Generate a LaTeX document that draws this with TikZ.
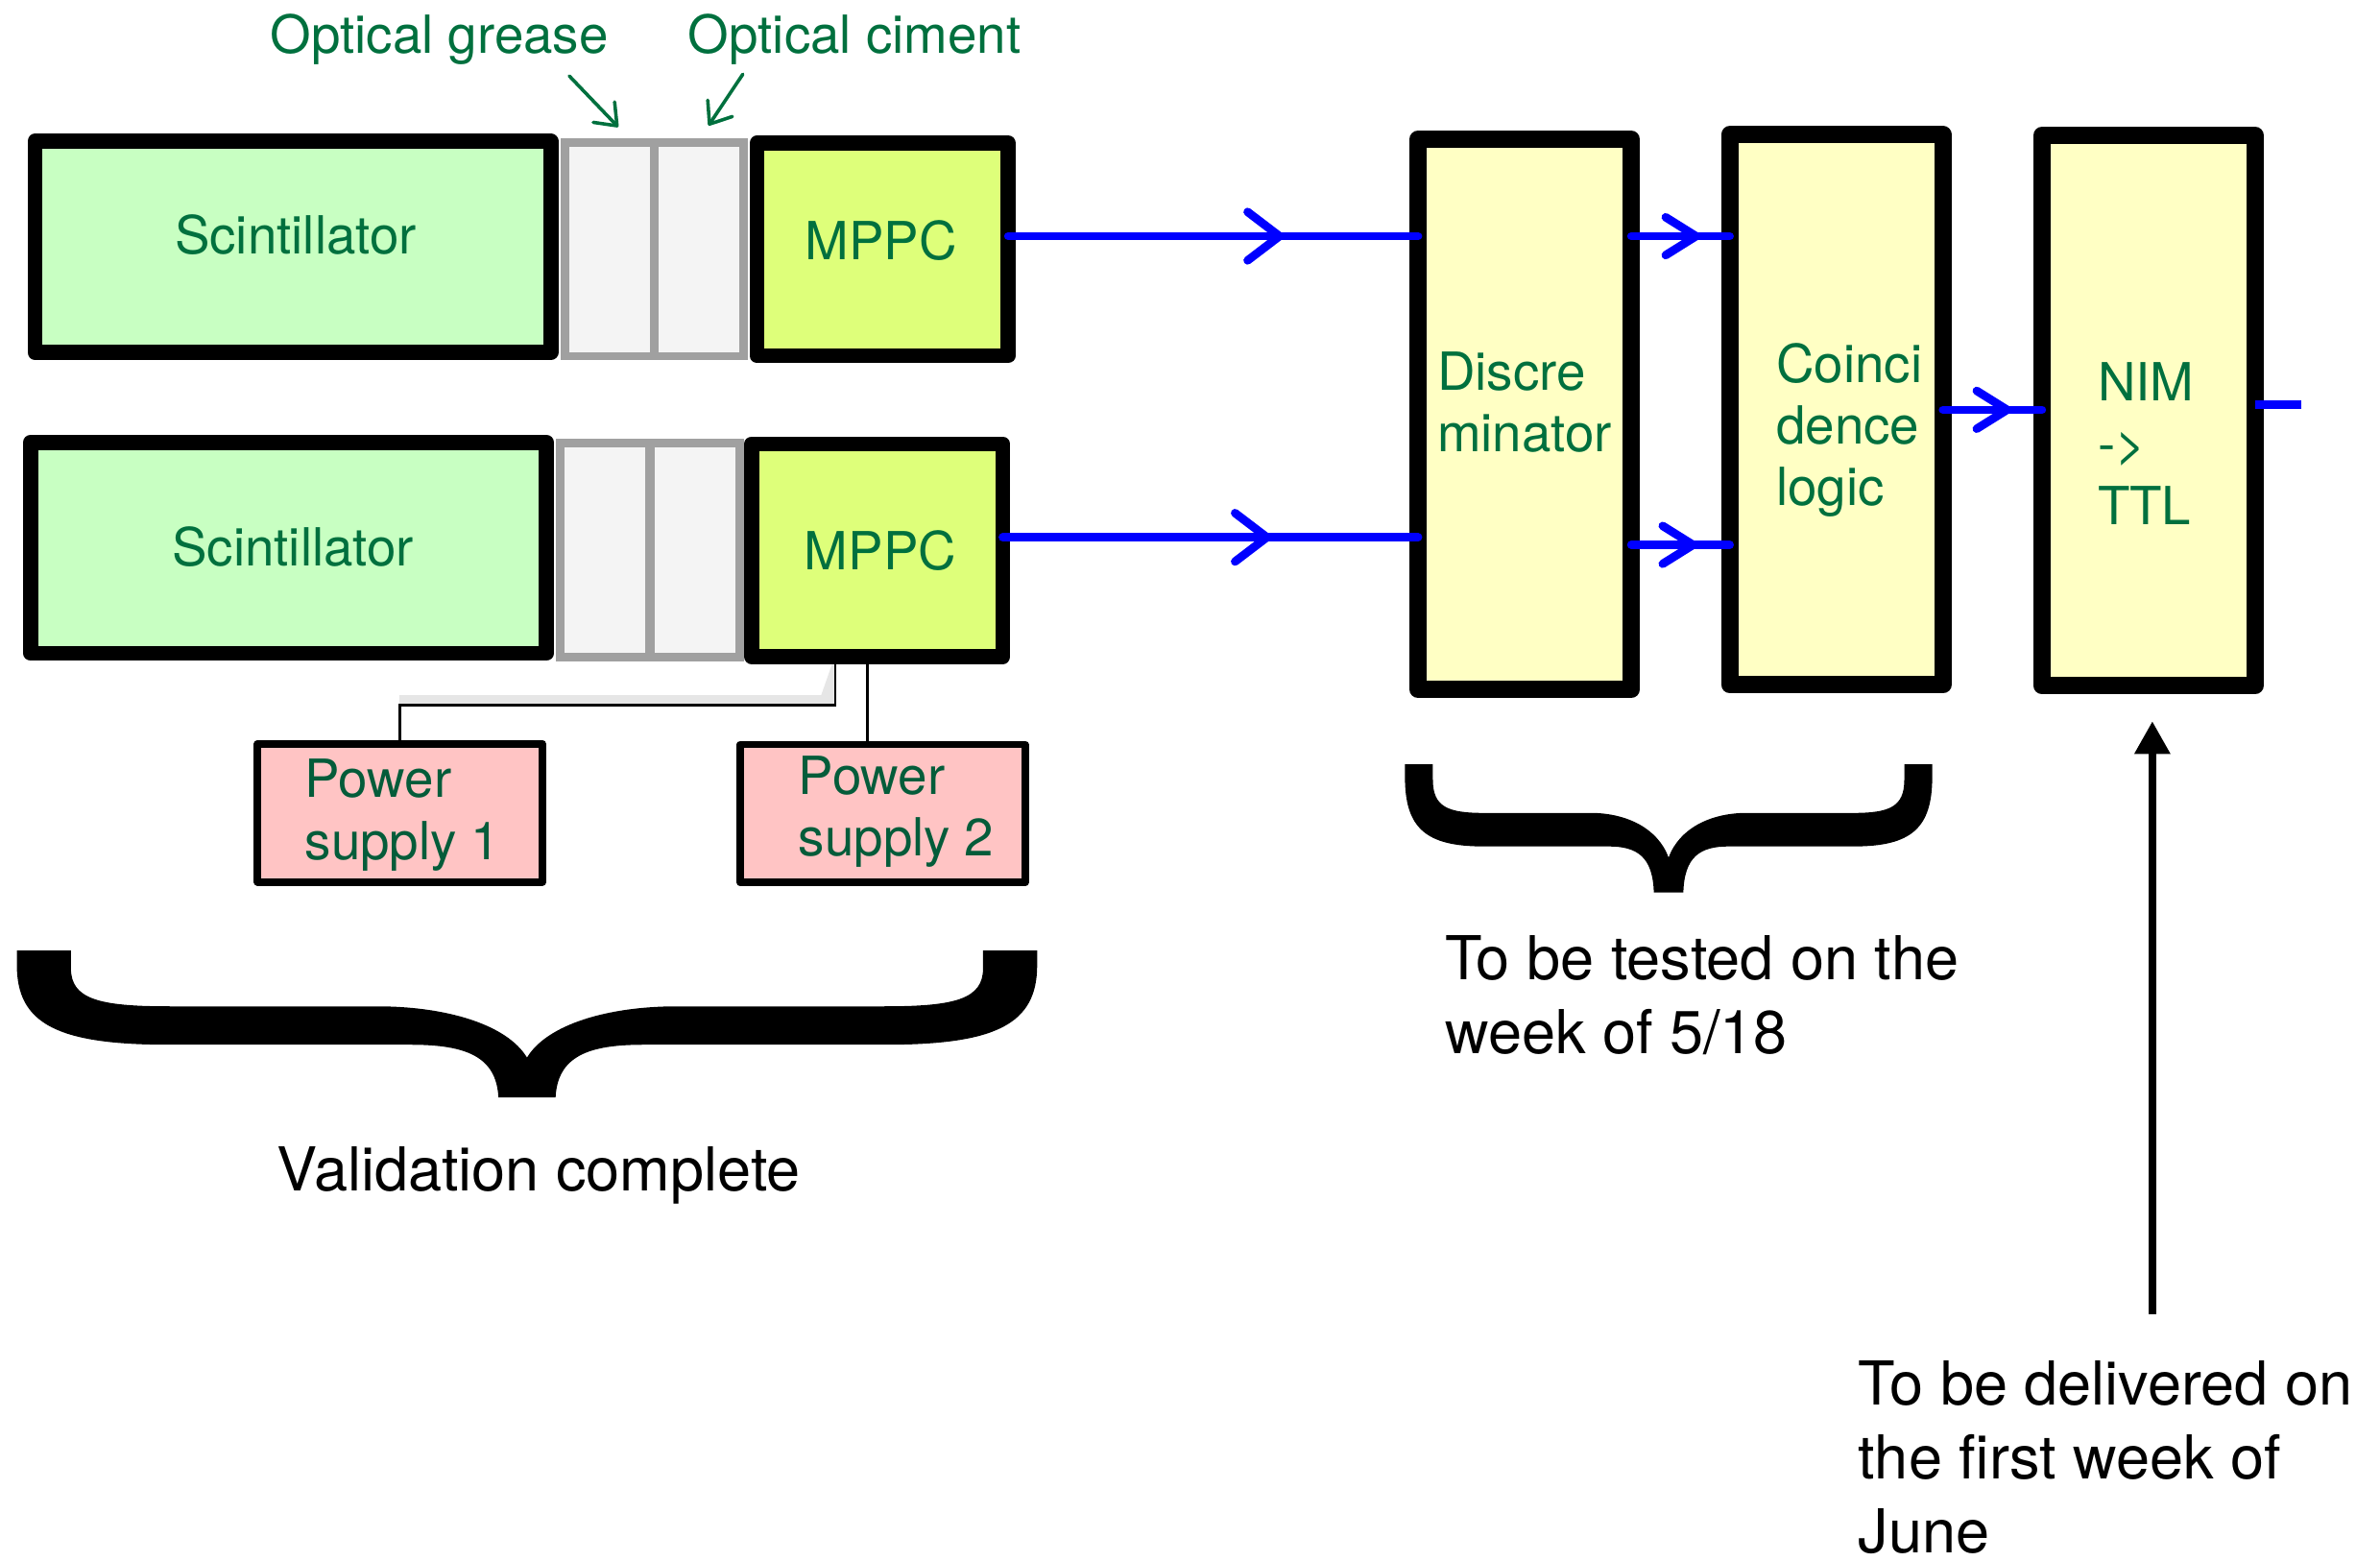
\documentclass[tikz,border=0pt]{standalone}
\usepackage{fontspec}
\setmainfont{TeX Gyre Heros}
\usetikzlibrary{arrows.meta,decorations.markings}

\definecolor{scintgreen}{RGB}{200,255,194}
\definecolor{mppcyellow}{RGB}{222,255,122}
\definecolor{logicyellow}{RGB}{255,255,196}
\definecolor{pspink}{RGB}{255,196,196}
\definecolor{gluegray}{RGB}{160,160,160}
\definecolor{gluefill}{RGB}{244,244,244}
\definecolor{labelgreen}{RGB}{0,112,62}
\definecolor{psgreen}{RGB}{4,92,58}
\definecolor{shadowgray}{RGB}{230,230,230}

\newcommand{\gfont}{\fontsize{19.7}{23.1}\selectfont}
\newcommand{\bfont}{\fontsize{22.7}{27.8}\selectfont}
\def\curlybrace(#1,#2)(#3,#4){\begin{scope}[shift={(#1,#2)},xscale=#3,yscale=#4]
  \fill[black] (0,0) -- (0.053,0) -- (0.053,0.12) .. controls (0.053,0.33) and (0.08,0.38) .. (0.15,0.38)
    -- (0.353,0.38) .. controls (0.42,0.38) and (0.48,0.5) .. (0.5,0.728)
    .. controls (0.52,0.5) and (0.58,0.38) .. (0.647,0.38) -- (0.85,0.38)
    .. controls (0.92,0.38) and (0.947,0.33) .. (0.947,0.12) -- (0.947,0) -- (1,0) -- (1,0.1)
    .. controls (1,0.5) and (0.96,0.641) .. (0.851,0.641) -- (0.614,0.641)
    .. controls (0.56,0.641) and (0.53,0.72) .. (0.528,1) -- (0.472,1)
    .. controls (0.47,0.72) and (0.44,0.641) .. (0.386,0.641) -- (0.149,0.641)
    .. controls (0.04,0.641) and (0,0.5) .. (0,0.1) -- cycle;
\end{scope}}

\tikzset{
  blackbox/.style={draw=black, line width=0.2cm, line join=round, inner sep=0pt, outer sep=0pt},
  scintbox/.style={blackbox, fill=scintgreen, minimum width=6.8cm, minimum height=2.78cm},
  mppcbox/.style={blackbox, fill=mppcyellow, minimum width=3.31cm, minimum height=2.8cm},
  logicbox/.style={blackbox, line width=0.228cm, fill=logicyellow, minimum width=2.81cm, minimum height=7.25cm},
  psbox/.style={blackbox, line width=0.1cm, fill=pspink, minimum width=3.75cm, minimum height=1.82cm},
  gluebox/.style={draw=gluegray, line width=0.108cm, fill=gluefill, inner sep=0pt, outer sep=0pt,
    minimum width=1.18cm, minimum height=2.82cm},
  gtext/.style={font=\gfont, text=labelgreen, inner sep=0pt, align=left},
  pstext/.style={gtext, text=psgreen},
  btext/.style={font=\bfont, text=black, inner sep=0pt, align=left},
  sig/.style={draw=blue, line width=0.11cm, line cap=round},
  sigmark/.style={postaction={decorate}, decoration={markings,
    mark=at position #1 with {\arrow{Straight Barb[length=0.42cm, width=0.64cm, round]}}}},
  shortmark/.style={postaction={decorate}, decoration={markings,
    mark=at position #1 with {\arrow{Straight Barb[length=0.4cm, width=0.5cm, round]}}}},
  wire/.style={draw=black, line width=0.034cm},
  noteline/.style={draw=labelgreen, line width=0.045cm, line cap=round,
    -{Straight Barb[length=0.25cm, width=0.39cm, round]}},
  delivarrow/.style={draw=black, line width=0.097cm, -{Triangle[length=0.43cm, width=0.45cm]}, shorten >=0.47cm}
}

\begin{document}
\begin{tikzpicture}[x=0.02cm, y=-0.02cm]
  \useasboundingbox (0,0) rectangle (1568,1028);

  %%%%% detectors %%%%%
  \node[gluebox] (grease1) at (401.6,164.3) {};
  \node[gluebox] (ciment1) at (460.4,164.3) {};
  \node[scintbox] (scint1) at (193,162.7) {};
  \node[mppcbox] (mppc1) at (581.5,164.3) {};

  \node[gluebox] (grease2) at (398.4,362.4) {};
  \node[gluebox] (ciment2) at (457.9,362.4) {};
  \node[scintbox] (scint2) at (190.1,360.9) {};
  \node[mppcbox] (mppc2) at (577.9,362.5) {};

  \node[gtext, anchor=base] (scint1lbl) at (194.8,167.6) {Scintillator};
  \node[gtext, anchor=base] (mppc1lbl) at (580.3,170.8) {MPPC};
  \node[gtext, anchor=base] (scint2lbl) at (193,372.7) {Scintillator};
  \node[gtext, anchor=base] (mppc2lbl) at (580,375.7) {MPPC};

  \node[gtext, anchor=base] (greaselbl) at (289.5,34.8) {Optical grease};
  \node[gtext, anchor=base] (cimentlbl) at (563,34.8) {Optical ciment};
  \coordinate (greasetail) at (375,50);
  \coordinate (greasetip) at (407.3,83.7);
  \coordinate (cimenttail) at (489.4,48.9);
  \coordinate (cimenttip) at (466.8,82.7);
  \draw[noteline] (greasetail) -- (greasetip);
  \draw[noteline] (cimenttail) -- (cimenttip);

  %%%%% power supplies %%%%%
  \node[psbox] (ps1) at (263.5,535.5) {};
  \node[psbox] (ps2) at (581.5,536) {};
  \node[pstext, anchor=north west] (ps1lbl) at (200.6,500) {Power\\supply 1};
  \node[pstext, anchor=north west] (ps2lbl) at (525.8,497.9) {Power\\supply 2};

  \coordinate (tap1) at (550.2,464.5);
  \coordinate (tap2) at (571.5,464.5);
  \fill[shadowgray] (263,458) -- (541,458) -- (548,438) -- (550.2,438) -- (550.2,464.5) -- (263,464.5) -- cycle;
  \draw[wire] (mppc2.south -| tap1) -- (tap1) -| (ps1.north);
  \draw[wire] (mppc2.south -| tap2) -- (ps2.north -| tap2);

  %%%%% logic %%%%%
  \node[logicbox] (disc) at (1004.5,273) {};
  \node[logicbox] (coinc) at (1209.8,270) {};
  \node[logicbox] (nim) at (1415.5,270.5) {};
  \node[gtext, anchor=north west] (disclbl) at (946.6,231.4) {Discre\\minator};
  \node[gtext, anchor=north west] (coinclbl) at (1170,225.8) {Coinci\\dence\\logic};
  \node[gtext, anchor=north west] (nimlbl) at (1381.7,238.6) {NIM\\->\\TTL};

  \draw[sig, sigmark=0.672] ([yshift=0.174cm]mppc1.east) coordinate (row1) -- (row1 -| disc.west);
  \draw[sig, sigmark=0.646] ([yshift=0.17cm]mppc2.east) coordinate (row2) -- (row2 -| disc.west);
  \draw[sig, shortmark=0.70] ([yshift=2.348cm]disc.east) coordinate (dc1) -- (dc1 -| coinc.west);
  \draw[sig, shortmark=0.67] ([yshift=-1.72cm]disc.east) coordinate (dc2) -- (dc2 -| coinc.west);
  \draw[sig, shortmark=0.69] (coinc.east) -- (coinc.east -| nim.west);
  \coordinate (nimout) at (1516,266.4);
  \draw[sig, line cap=butt] (nimout -| nim.east) -- (nimout);

  %%%%% notes %%%%%
  \curlybrace(11.1,626.2)(672.2,96.9)
  \curlybrace(925.6,503.5)(347.4,84.5)
  \node[btext, anchor=base] (valid) at (355,784.7) {Validation complete};
  \node[btext, anchor=north west] (tested) at (951.6,615.9) {To be tested on the\\week of 5/18};
  \node[btext, anchor=north west] (delivered) at (1224,896.1) {To be delivered on\\the first week of\\June};
  \coordinate (delivtail) at (1418,866);
  \draw[delivarrow] (delivtail) -- (delivtail |- nim.south);
\end{tikzpicture}
\end{document}
